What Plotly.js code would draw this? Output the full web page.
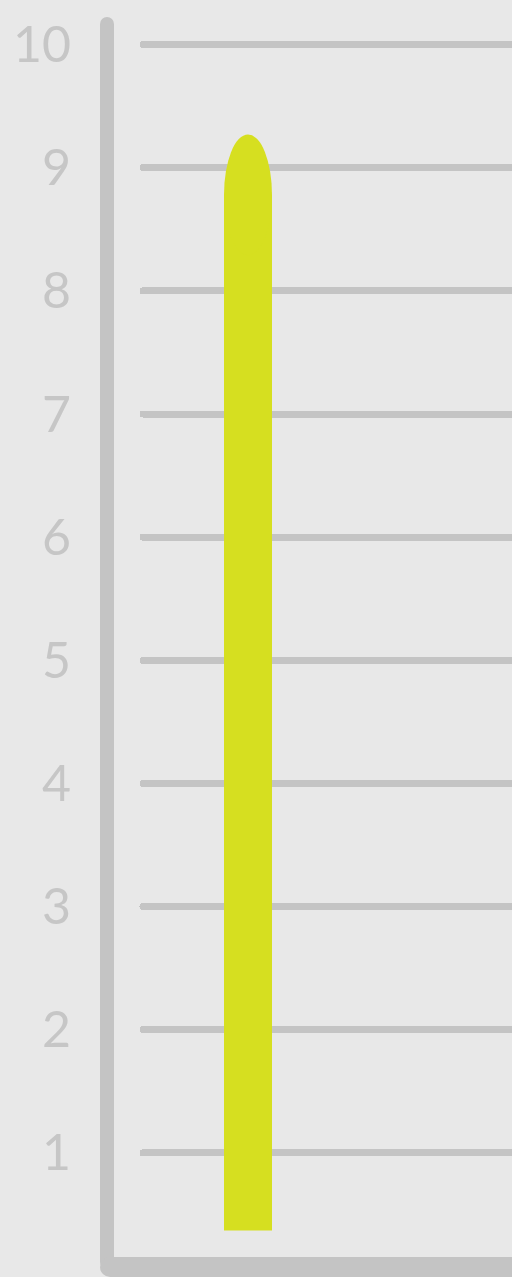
<!DOCTYPE html>
<html>
<head>
<meta charset="utf-8">
<script src="https://cdn.plot.ly/plotly-3.0.1.min.js"></script>
<style>
  html, body { margin: 0; padding: 0; background: #e8e8e8; }
  .gridlayer path, .shapelayer path { stroke-linecap: round; }
</style>
</head>
<body>
<div id="chart" style="width:512px;height:1277px;"></div>
<script>
// Data
const categories = [0];
const barTops = [9.27];
const barBases = [0.37];
const tickValues = [1, 2, 3, 4, 5, 6, 7, 8, 9, 10];
const tickLabels = ['1', '2', '3', '4', '5', '6', '7', '8', '9', '10'];

// Style / layout constants
const W = 512, H = 1277;
const M = {l: 143, r: 0, t: 20, b: 1};
const plotW = W - M.l - M.r, plotH = H - M.t - M.b;
const capH = 0.49;        // height of the rounded cap in data units
const barW = 1;
const grey = '#c4c4c4';
const barColor = '#d6df20';
const px2x = px => (px - M.l) / plotW;
const py2y = py => (H - M.b - py) / plotH;

const trace = {
  type: 'bar',
  x: categories,
  y: barTops.map((t, i) => t - capH - barBases[i]),
  base: barBases,
  width: barW,
  marker: {color: barColor, line: {width: 0}},
  hoverinfo: 'skip'
};

const shapes = [];
categories.forEach((c, i) => {
  shapes.push({
    type: 'circle', xref: 'x', yref: 'y',
    x0: c - barW / 2, x1: c + barW / 2,
    y0: barTops[i] - 2 * capH, y1: barTops[i],
    fillcolor: barColor, line: {width: 0}, layer: 'above'
  });
});
// axis lines
shapes.push({type: 'line', xref: 'paper', yref: 'paper',
  x0: px2x(107), x1: px2x(107), y0: py2y(24), y1: py2y(1262),
  line: {color: grey, width: 14}, layer: 'above'});
shapes.push({type: 'line', xref: 'paper', yref: 'paper',
  x0: px2x(110), x1: px2x(560), y0: py2y(1267), y1: py2y(1267),
  line: {color: grey, width: 20}, layer: 'above'});

const layout = {
  width: W, height: H,
  margin: M,
  paper_bgcolor: '#e8e8e8',
  plot_bgcolor: '#e8e8e8',
  showlegend: false,
  xaxis: {
    range: [-105 / 48, 264 / 48],
    showgrid: false, zeroline: false, showline: false,
    showticklabels: false, ticks: '', fixedrange: true
  },
  yaxis: {
    range: [0, 10.2],
    tickvals: tickValues, ticktext: tickLabels,
    showgrid: true, gridcolor: grey, gridwidth: 7,
    zeroline: false, showline: false, ticks: '',
    ticklabelstandoff: 71,
    tickfont: {family: 'Lato, "Open Sans", sans-serif', size: 50, color: '#c6c6c6', weight: 400},
    fixedrange: true
  },
  shapes: shapes
};

Plotly.newPlot('chart', [trace], layout, {displayModeBar: false, staticPlot: true});
</script>
</body>
</html>
